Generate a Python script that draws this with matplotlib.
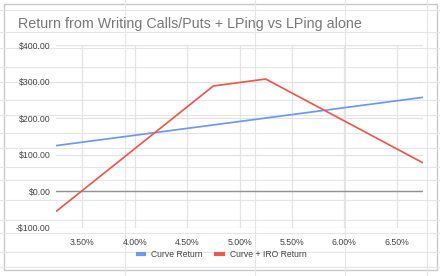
import matplotlib
matplotlib.use("Agg")
import matplotlib.pyplot as plt
from matplotlib.patches import Rectangle
from matplotlib.lines import Line2D

plt.rcParams['font.family'] = ['Liberation Sans', 'DejaVu Sans']

title = "Return from Writing Calls/Puts + LPing vs LPing alone"
curve_x = [3.25, 6.75]
curve_y = [125, 257]
iro_x = [3.25, 4.75, 5.25, 6.75]
iro_y = [-55, 288, 307, 78]
xticks = [3.5, 4.0, 4.5, 5.0, 5.5, 6.0, 6.5]
xtick_labels = ["3.50%", "4.00%", "4.50%", "5.00%", "5.50%", "6.00%", "6.50%"]
yticks = [-100, 0, 100, 200, 300, 400]
ytick_labels = ["-$100.00", "$0.00", "$100.00", "$200.00", "$300.00", "$400.00"]
series_names = ["Curve Return", "Curve + IRO Return"]

W, H = 440, 276
fig = plt.figure(figsize=(W / 100, H / 100), dpi=100)
fig.patch.set_facecolor("white")

# spreadsheet grid in the background
bg = fig.add_axes([0, 0, 1, 1], zorder=-5)
bg.set_xlim(0, W); bg.set_ylim(H, 0); bg.axis("off")
for yy in [10, 32, 48, 67, 82, 100, 115, 133, 148, 167, 180, 200, 220, 233, 252, 267]:
    bg.plot([0, W], [yy, yy], color="#e6e6e6", lw=0.8)
for xx in [125, 255, 345, 427]:
    bg.plot([xx, xx], [0, H], color="#e6e6e6", lw=0.8)
bg.add_patch(Rectangle((4, 4), 433, 266, facecolor="white", edgecolor="#c8c8c8", lw=1.0))

ax = fig.add_axes([56 / W, 1 - 228 / H, (423 - 56) / W, (228 - 45) / H])
ax.set_facecolor("none")
ax.set_xlim(3.25, 6.75)
ax.set_ylim(-100, 400)
for s in ax.spines.values():
    s.set_visible(False)
ax.set_xticks(xticks)
ax.set_xticklabels(xtick_labels)
ax.set_yticks(yticks)
ax.set_yticklabels(ytick_labels)
ax.tick_params(length=0, labelsize=6.3, colors="#444444", pad=4)
ax.tick_params(axis="x", pad=7)
ax.grid(True, color="#e3e3e3", lw=0.9)
ax.axhline(0, color="#929292", lw=1.0, zorder=2)

ax.plot(curve_x, curve_y, color="#6f98f5", lw=1.25, zorder=3, solid_capstyle="butt")
ax.plot(iro_x, iro_y, color="#eb5a4e", lw=1.25, zorder=3, solid_capstyle="butt")

fig.text(18 / W, 1 - 24 / H, title, fontsize=10.3, color="#787878", va="center", ha="left")

handles = [Line2D([], [], color="#6f98f5", lw=3),
           Line2D([], [], color="#eb5a4e", lw=3)]
fig.legend(handles, series_names, loc="center", bbox_to_anchor=(222 / W, 1 - 254.5 / H),
           ncol=2, frameon=False, fontsize=6.2, handlelength=0.8, handletextpad=0.8,
           columnspacing=1.5, labelcolor="#444444")

fig.savefig("out.png", dpi=100, facecolor="white")
